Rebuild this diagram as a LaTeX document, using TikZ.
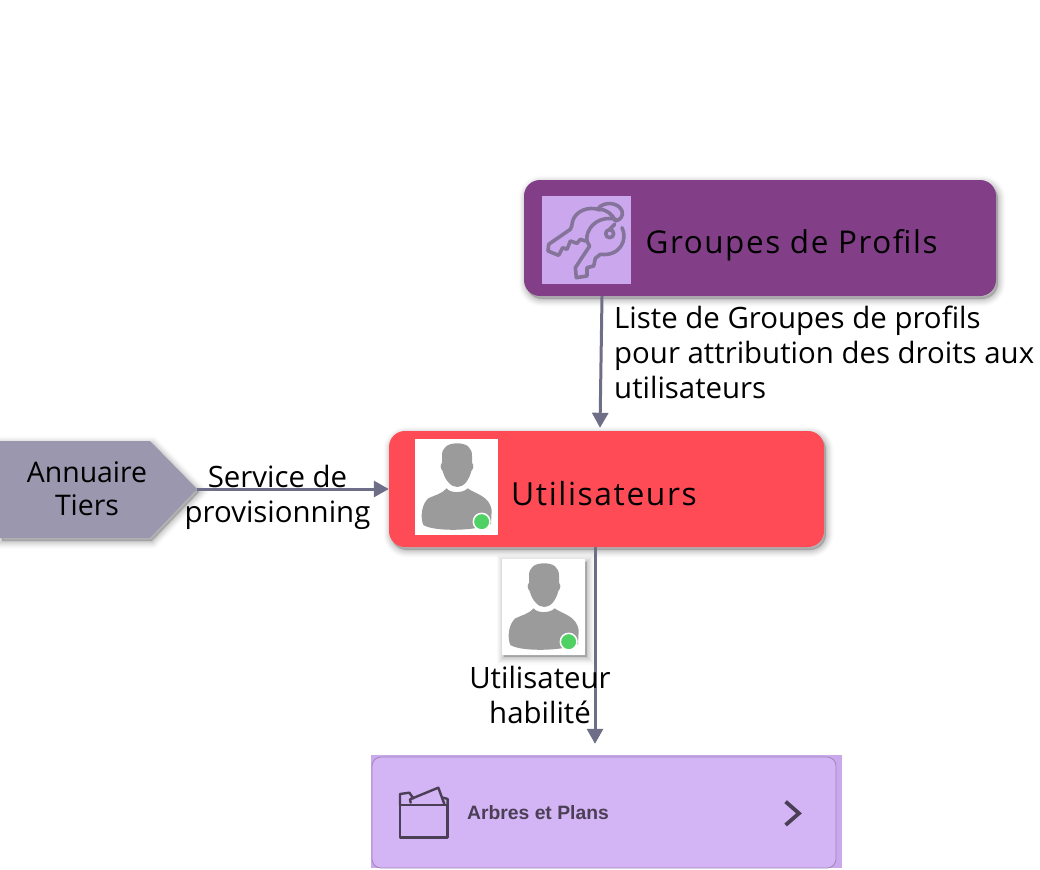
\documentclass[tikz,border=0pt]{standalone}
\usepackage{fontspec}
\setmainfont{Open Sans}
\newfontfamily\spaced[LetterSpace=5]{Open Sans}
\newfontfamily\cardfont{Liberation Sans}
\usetikzlibrary{arrows.meta,calc}
\definecolor{grpcol}{HTML}{823F87}
\definecolor{keybg}{HTML}{CBA8EE}
\definecolor{keyline}{HTML}{85749A}
\definecolor{usrcol}{HTML}{FF4B55}
\definecolor{dircol}{HTML}{9A97AE}
\definecolor{arrowcol}{HTML}{6E6E88}
\definecolor{cardout}{HTML}{C9A9EC}
\definecolor{cardin}{HTML}{D3B4F5}
\definecolor{cardink}{HTML}{4A3F55}
\definecolor{persongray}{HTML}{9B9B9B}
\definecolor{dotgreen}{HTML}{4FD163}
\tikzset{
  softshadow/.style={
    preaction={fill=black,draw=black,opacity=.018,line width=15pt,transform canvas={xshift=2pt,yshift=-3pt}},
    preaction={fill=black,draw=black,opacity=.022,line width=12pt,transform canvas={xshift=2pt,yshift=-3pt}},
    preaction={fill=black,draw=black,opacity=.026,line width=10pt,transform canvas={xshift=2pt,yshift=-3pt}},
    preaction={fill=black,draw=black,opacity=.03,line width=8pt,transform canvas={xshift=2pt,yshift=-3pt}},
    preaction={fill=black,draw=black,opacity=.035,line width=6pt,transform canvas={xshift=2pt,yshift=-3pt}},
    preaction={fill=black,draw=black,opacity=.04,line width=4pt,transform canvas={xshift=2pt,yshift=-3pt}},
    preaction={fill=black,draw=black,opacity=.04,line width=2pt,transform canvas={xshift=2pt,yshift=-3pt}}},
  boxnode/.style={rectangle,rounded corners=16pt,inner sep=0pt,softshadow},
  txt/.style={font=\fontsize{29.4}{35}\selectfont,align=center,inner sep=0pt,text=black},
  spacedtxt/.style={font=\spaced\fontsize{31.8}{35}\selectfont,anchor=west,inner sep=0pt,text=black},
  conn/.style={draw=arrowcol,line width=3pt,-{Triangle[length=15pt,width=16pt]}},
  keystroke/.style={draw=keyline,line width=3.6pt,line join=round,line cap=round},
  cardstroke/.style={draw=cardink,line width=2.4pt,line join=round,line cap=round},
  person/.pic={
    \fill[white] (0,0) rectangle (83,96);
    \begin{scope}[x=.3333pt,y=-.3333pt]
    \fill[persongray] (127,13) .. controls (98,13) and (81,25) .. (81,50) -- (81,72)
      .. controls (75,75) and (76,90) .. (83,96)
      .. controls (90,124) and (108,144) .. (127,144)
      .. controls (146,144) and (162,124) .. (169,96)
      .. controls (176,90) and (177,75) .. (171,72) -- (171,50)
      .. controls (171,25) and (154,13) .. (127,13) -- cycle;
    \fill[persongray] (95,148) .. controls (105,163) and (145,163) .. (158,148)
      .. controls (180,165) and (225,170) .. (230,215) -- (228,255)
      .. controls (190,275) and (60,280) .. (25,258)
      .. controls (15,235) and (20,195) .. (40,178)
      .. controls (60,168) and (80,165) .. (95,148) -- cycle;
    \fill[dotgreen,draw=white,line width=1.5pt] (200,248) circle (25);
    \end{scope}
  }
}
\begin{document}
\begin{tikzpicture}[x=1pt,y=-1pt]
\useasboundingbox (0,0) rectangle (1040,869);
% Nodes
\node[boxnode,fill=grpcol,minimum width=472pt,minimum height=116pt] (groupes) at (760,238) {};
\node[boxnode,fill=usrcol,minimum width=435pt,minimum height=116pt] (utilisateurs) at (606.5,489) {};
\fill[softshadow,fill=dircol] (0,441) -- (150,441) -- (197,489) -- (150,538) -- (0,538) -- cycle;
\node[inner sep=0pt,minimum width=197pt,minimum height=97pt] (annuaire) at (98.5,489) {};
\node[rectangle,inner sep=0pt,fill=cardout,minimum width=471pt,minimum height=113pt] (arbres) at (606.5,811.5) {};
% Card
\fill[cardin,draw=black!25!cardin,line width=.8pt,rounded corners=9pt] (372,757) rectangle (836,868);
% Connectors
\draw[conn] ([xshift=-158pt]groupes.south) -- ([xshift=-6.5pt,yshift=3pt]utilisateurs.north);
\draw[conn] (annuaire.east) -- (utilisateurs.west);
\draw[conn] ([xshift=-11.5pt]utilisateurs.south) -- ([xshift=-11.5pt,yshift=11pt]arbres.north);
% Key tile
\fill[keybg] (542,196) rectangle (631,284);
\begin{scope}[shift={(542,196)},x=.3333pt,y=-.3333pt]
  \draw[keystroke] (168,38) .. controls (185,15) and (230,18) .. (240,45)
    .. controls (245,60) and (235,72) .. (220,75);
  \draw[keystroke] (168,38) .. controls (195,42) and (212,55) .. (220,75);
  \draw[keystroke] (175,42) .. controls (135,28) and (100,48) .. (92,75)
    .. controls (89,88) and (90,93) .. (85,100)
    -- (20,145) -- (18,165) -- (50,178) -- (62,155) -- (75,160) -- (85,135) -- (105,142) -- (115,130) -- (130,135);
  \draw[keystroke] (222,70) .. controls (175,58) and (140,88) .. (135,120)
    .. controls (133,135) and (137,143) .. (143,150)
    -- (100,215) -- (103,245) -- (135,240) -- (135,215) -- (155,210) -- (160,187) -- (175,175)
    .. controls (235,182) and (258,130) .. (240,95);
  \draw[keystroke] (203,113) circle (12);
  \draw[keystroke] (203,100) -- (218,85);
\end{scope}
% Persons
\pic at (415,439) {person};
\fill[softshadow,fill=white] (502,559) rectangle (585,654);
\pic at (502,559) {person};
% Card icons
\begin{scope}[shift={(365,730)},x=.3333pt,y=-.3333pt]
  \draw[cardstroke] (105,225) -- (248,225) -- (248,322) -- (105,322) -- cycle;
  \draw[cardstroke] (105,225) -- (105,192) -- (133,188) -- (145,205);
  \draw[cardstroke] (137,218) -- (135,208) -- (220,173) -- (238,222);
  \draw[cardstroke] (235,203) -- (248,207) -- (248,225);
  \draw[draw=cardink,line width=3.8pt,line join=miter] (1262,215) -- (1302,250) -- (1262,285);
\end{scope}
% Texts
\node[spacedtxt,font=\spaced\fontsize{31.4}{35}\selectfont] (tg) at (645.5,245) {Groupes de Profils};
\node[spacedtxt] (tu) at (511,494) {Utilisateurs};
\node[txt,font=\fontsize{28.4}{33}\selectfont] (ta) at (87,489) {Annuaire\\Tiers};
\node[txt] (ls) at (277.5,497) {Service de\\provisionning};
\node[txt,align=left,anchor=north west] (ll) at (614,306) {Liste de Groupes de profils\\pour attribution des droits aux\\utilisateurs};
\node[txt] (lh) at (540,694.5) {Utilisateur\\habilité};
\node[font=\cardfont\bfseries\fontsize{19.3}{22}\selectfont,text=cardink,anchor=west,inner sep=0pt] (tc) at (467,813) {Arbres et Plans};
\end{tikzpicture}
\end{document}
